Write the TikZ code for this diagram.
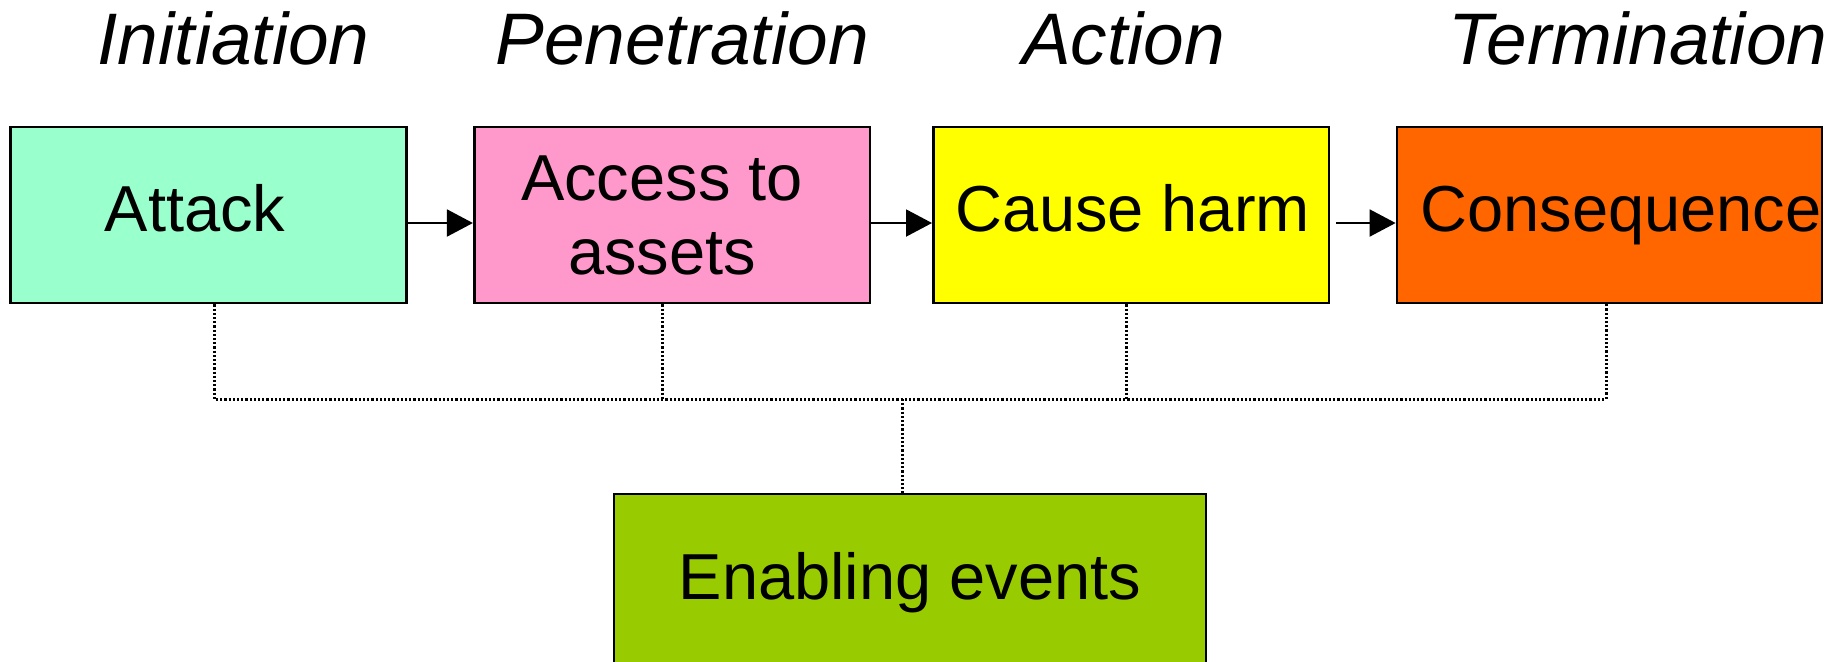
\documentclass[tikz,border=0pt]{standalone}
\usepackage{fontspec}
\setmainfont{Liberation Sans}
\usetikzlibrary{arrows.meta}
\definecolor{mint}{HTML}{99FFCC}
\definecolor{pinkbox}{HTML}{FF99CC}
\definecolor{yellowbox}{HTML}{FFFF00}
\definecolor{orangebox}{HTML}{FF6600}
\definecolor{greenbox}{HTML}{99CC00}
\tikzset{
  stage/.style={draw=black, line width=1.4pt, inner sep=0pt, minimum height=88pt, minimum width=197.8pt},
  boxtext/.style={anchor=base, inner sep=0pt, font=\fontsize{32.5}{37}\selectfont, align=center},
  phase/.style={anchor=base, inner sep=0pt, font=\fontsize{36.5}{40}\selectfont\itshape},
  flow/.style={line width=1pt, -{Triangle[length=13pt,width=13.5pt]}},
  bus/.style={line width=1.5pt, dash pattern=on 1.1pt off 1pt}
}
\begin{document}
\begin{tikzpicture}[x=0.5pt, y=-0.5pt]
\useasboundingbox (0,0) rectangle (1841,661);

% phase headings
\node[phase] (hInit) at (233.6,64.6) {Initiation};
\node[phase] (hPen)  at (682,64.6) {Penetration};
\node[phase] (hAct)  at (1123.6,64.6) {Action};
\node[phase] (hTerm) at (1638,64.6) {Termination};

% stage boxes
\node[stage, fill=mint]      (attack) at (208.4,215) {};
\node[stage, fill=pinkbox]   (access) at (672.1,215) {};
\node[stage, fill=yellowbox] (cause)  at (1131.2,215) {};
\node[stage, fill=orangebox, minimum width=212.5pt] (conseq) at (1609.5,215) {};
\node[stage, fill=greenbox, minimum width=296pt, minimum height=113pt] (enabling) at (910,607) {};

% box labels (base anchor sits on the last line)
\node[boxtext] (tAttack) at (195,231.7) {Attack};
\node[boxtext] (tAccess) at (662,274) {Access to\\assets};
\node[boxtext] (tCause)  at (1133,231.7) {Cause harm};
\node[boxtext] (tConseq) at (1621,231.7) {Consequence};
\node[boxtext] (tEnab)   at (910,599) {Enabling events};

% sequence arrows
\draw[flow] (attack.east |- 0,223) -- (access.west |- 0,223);
\draw[flow] (access.east |- 0,223) -- (cause.west |- 0,223);
\draw[flow] ([xshift=3pt]cause.east |- 0,223) -- (conseq.west |- 0,223);

% dotted links to enabling events
\path (214,399) coordinate (j1) (662,399) coordinate (j2) (902,399) coordinate (hub)
      (1126,399) coordinate (j3) (1606,399) coordinate (j4);
\draw[bus] (attack.south -| j1) -- (j1) -- (j4) -- (conseq.south -| j4);
\draw[bus] (access.south -| j2) -- (j2);
\draw[bus] (cause.south -| j3) -- (j3);
\draw[bus] (hub) -- (enabling.north -| hub);
\end{tikzpicture}
\end{document}
